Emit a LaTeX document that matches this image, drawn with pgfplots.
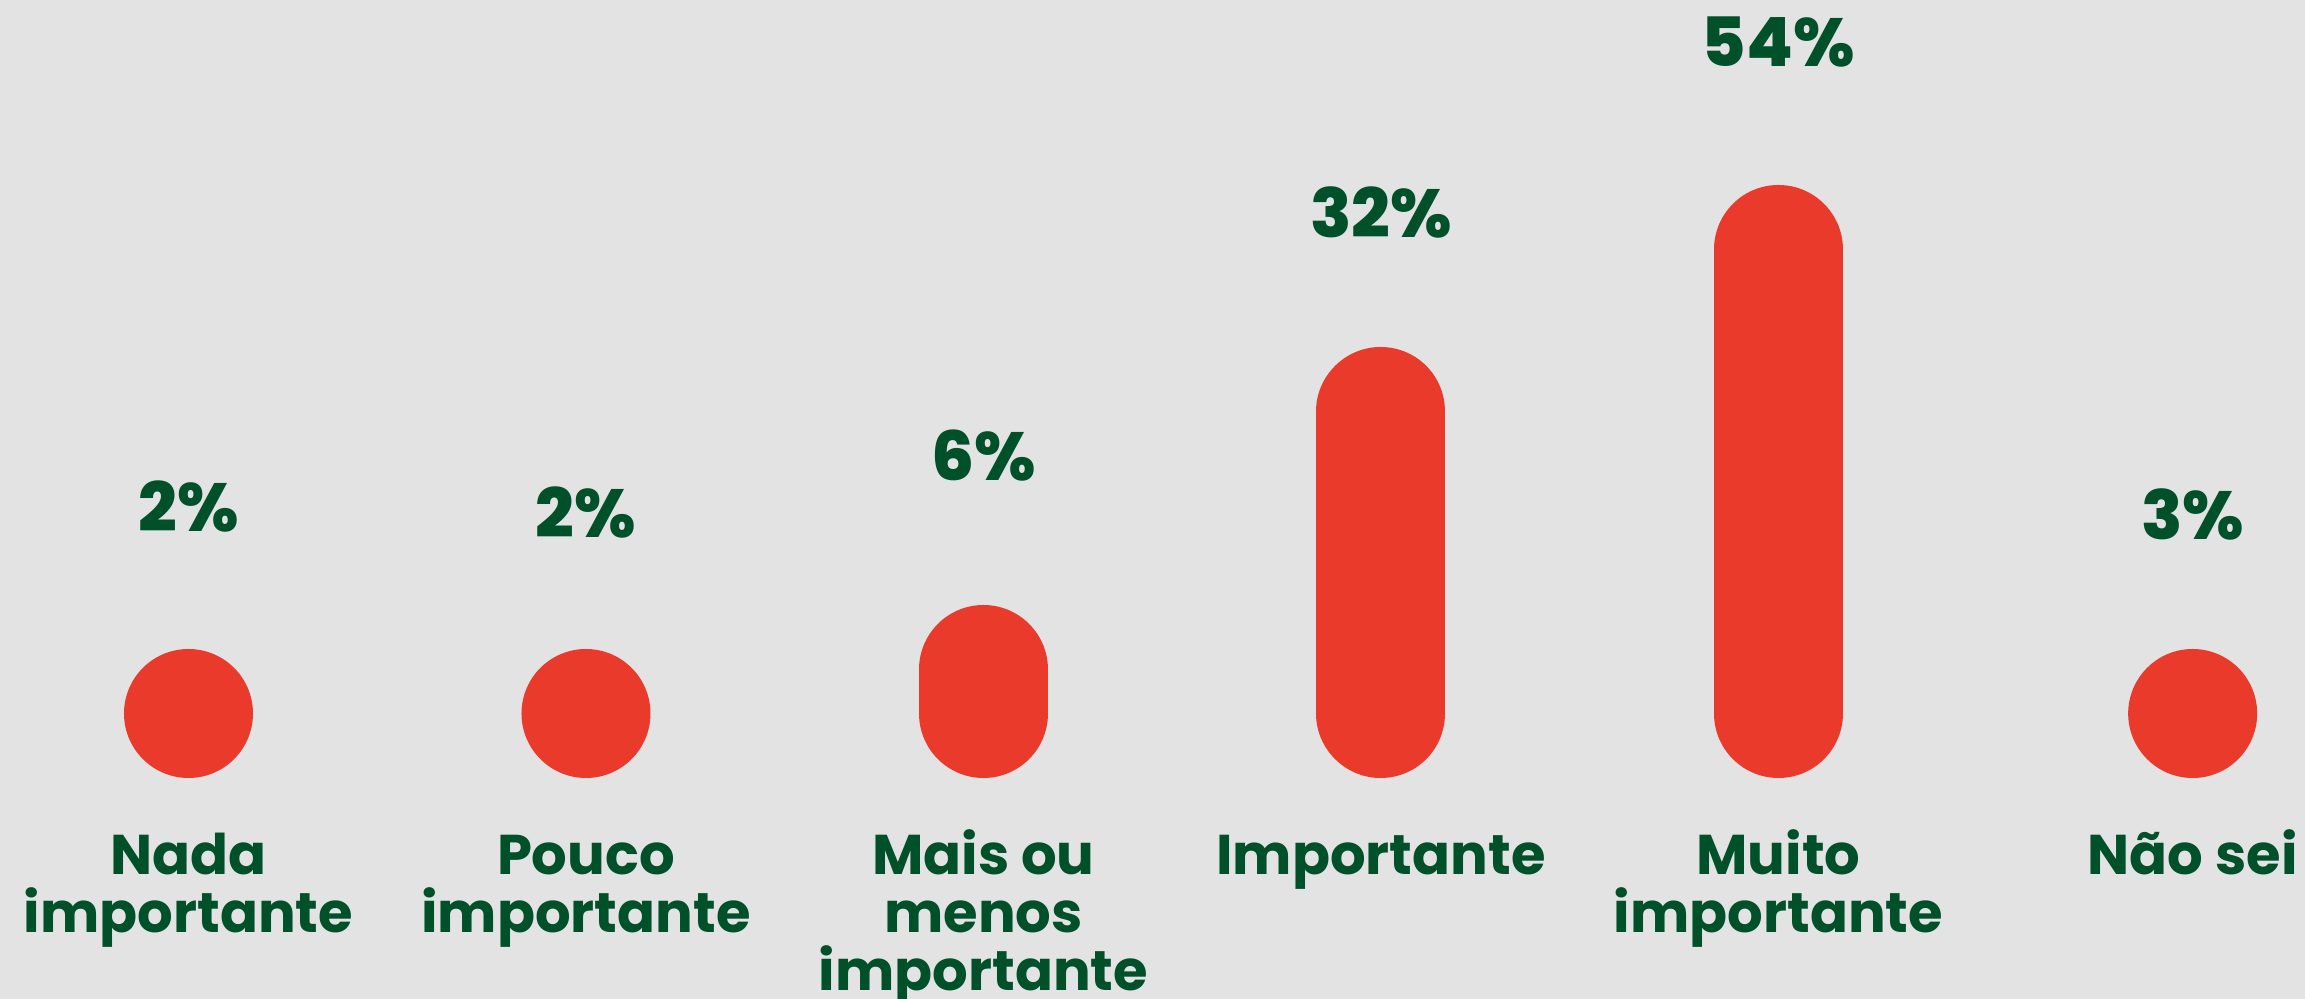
\documentclass[border=0pt]{standalone}
\usepackage{pgfplots}
\pgfplotsset{compat=1.18}
\usepackage{fontspec}
\setmainfont{Poppins}
\newfontfamily\pctfont{Poppins ExtraBold}
\definecolor{bgc}{HTML}{E3E3E3}
\definecolor{barc}{HTML}{EA3A2B}
\definecolor{txtc}{HTML}{00502A}
\begin{document}
\begin{tikzpicture}
\fill[bgc] (0,0) rectangle (1152.5pt,499.5pt);
\begin{axis}[
  at={(0,0)}, anchor=south west,
  scale only axis, width=1152.5pt, height=499.5pt,
  xmin=-0.4742, xmax=5.3245, ymin=-285.5, ymax=713.5,
  hide axis, clip=false,
]
% bars: straight-part height (caps are round)
\addplot[ycomb, draw=barc, line width=64.5pt, line cap=round, mark=none]
  coordinates {(0,0) (1,0) (2,44) (3,302) (4,464) (5.042,0)};
% percentage labels
\addplot[draw=none, mark=none, point meta=explicit symbolic,
  nodes near coords,
  every node near coord/.style={anchor=center, inner sep=0pt, text=txtc,
    font=\fontsize{34}{34}\selectfont\pctfont}]
  coordinates {(0,206.5)[2\%] (1,200.5)[2\%] (2,257.5)[6\%] (3,501.5)[32\%] (4,671)[54\%] (5.042,199.5)[3\%]};
% category labels (anchored at the baseline of their last line)
\addplot[draw=none, mark=none, point meta=explicit symbolic,
  nodes near coords,
  every node near coord/.style={anchor=base, inner sep=0pt, text=txtc, align=center,
    font=\fontsize{28}{29}\selectfont\bfseries}]
  coordinates {(0,-219.5)[Nada\\importante] (1,-219.5)[Pouco\\importante]
    (2,-277.5)[Mais ou\\menos\\importante] (3,-161.5)[Importante]
    (4,-219.5)[Muito\\importante] (5.042,-161.5)[Não sei]};
\end{axis}
\pgfresetboundingbox
\useasboundingbox (0,0) rectangle (1152.5pt,499.5pt);
\end{tikzpicture}
\end{document}
